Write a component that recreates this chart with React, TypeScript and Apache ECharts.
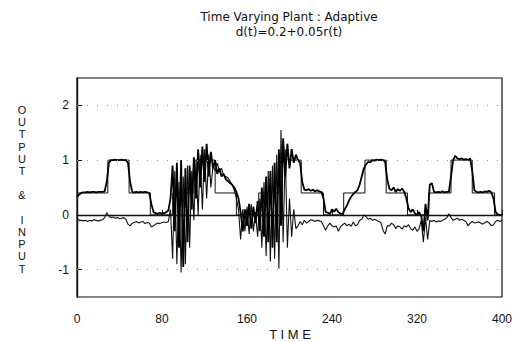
import React, { useEffect, useRef } from "react";
import * as echarts from "echarts";

const TITLE = "Time Varying Plant : Adaptive";
const SUBTITLE = "d(t)=0.2+0.05r(t)";
const X_LABEL = "TIME";
const Y_LABEL_CHARS = ["O", "U", "T", "P", "U", "T", "", "&", "", "I", "N", "P", "U", "T"];

const SAMPLE_STEP = 2; // time between samples of output / input

// reference command r(t): step breakpoints
const refTimes = [0, 29, 49, 69, 90, 110, 130, 150, 171, 191, 211, 232, 251, 271, 291, 311, 331, 352, 372, 393, 400];
const refValues = [0.4, 1, 0.4, 0, 0.4, 1, 0.4, 0, 0.4, 1, 0.4, 0, 0.4, 1, 0.4, 0, 0.4, 1, 0.4, 0, 0];

// plant output, t = 0..400 every 2
const outputValues = [
  0.33, 0.37, 0.4, 0.41, 0.41, 0.42, 0.41, 0.42, 0.42, 0.41,
  0.42, 0.42, 0.42, 0.43, 0.6, 0.95, 1.0, 1.0, 1.01, 1.0,
  1.0, 1.01, 1.0, 1.0, 0.95, 0.6, 0.42, 0.41, 0.42, 0.41,
  0.42, 0.41, 0.42, 0.41, 0.4, 0.2, 0.05, 0.03, 0.02, 0.04,
  0.02, 0.03, 0.05, 0.08, 0.3, 0.9, -0.3, 0.95, -0.6, 1.0,
  -0.95, 0.85, -0.5, 0.9, 0.1, 1.05, 0.3, 1.2, 0.5, 1.25,
  0.6, 1.3, 0.7, 1.15, 0.85, 1.0, 0.75, 0.85, 0.7, 0.75,
  0.65, 0.62, 0.58, 0.55, 0.5, 0.42, 0.3, 0.05, -0.3, 0.1,
  -0.2, 0.2, -0.25, 0.15, -0.15, 0.25, -0.3, 0.5, -0.4, 0.7,
  -0.5, 0.8, -0.6, 0.95, -0.5, 1.2, -0.2, 1.4, 0.7, 1.3,
  0.85, 1.2, 0.95, 1.1, 1.0, 0.95, 0.6, 0.46, 0.45, 0.47,
  0.44, 0.46, 0.43, 0.45, 0.43, 0.42, 0.3, 0.05, 0.04, 0.02,
  0.1, 0.06, 0.11, 0.05, 0.02, 0.02, 0.1, 0.17, 0.26, 0.33,
  0.38, 0.42, 0.45, 0.55, 0.7, 0.85, 0.92, 0.97, 0.96, 1.0,
  0.99, 1.01, 1.0, 1.01, 1.0, 0.97, 0.65, 0.48, 0.45, 0.5,
  0.42, 0.47, 0.44, 0.48, 0.42, 0.3, 0.12, 0.05, 0.1, 0.03,
  0.0, 0.05, -0.02, -0.3, 0.2, -0.1, 0.55, 0.58, 0.42, 0.41,
  0.42, 0.41, 0.43, 0.41, 0.42, 0.42, 0.7, 1.0, 1.08, 1.03,
  1.02, 1.03, 1.01, 1.02, 1.0, 1.03, 0.8, 0.45, 0.42, 0.41,
  0.42, 0.41, 0.43, 0.42, 0.44, 0.41, 0.3, 0.05, 0.01, 0.0,
  0.0,
];

// control input, t = 0..400 every 2
const inputValues = [
  -0.05, -0.1, -0.1, -0.11, -0.1, -0.12, -0.1, -0.11, -0.09, -0.1,
  -0.11, -0.1, -0.09, -0.05, 0.04, -0.02, -0.05, -0.04, -0.06, -0.05,
  -0.07, -0.06, -0.05, -0.08, -0.17, -0.2, -0.15, -0.14, -0.12, -0.15,
  -0.13, -0.12, -0.16, -0.14, -0.15, -0.22, -0.2, -0.17, -0.15, -0.16,
  -0.14, -0.13, -0.14, -0.12, 0.1, -0.8, 0.8, -0.9, 0.6, -1.05,
  0.7, -0.9, 0.9, -0.6, 0.8, -0.1, 1.0, 0.0, 1.1, 0.1,
  1.2, 0.3, 1.1, 0.5, 0.9, 0.8, 0.95, 0.8, 0.85, 0.72,
  0.7, 0.68, 0.62, 0.55, 0.45, 0.3, 0.1, -0.45, 0.1, -0.3,
  0.15, -0.35, 0.2, -0.3, 0.05, -0.4, 0.3, -0.6, 0.6, -0.75,
  0.8, -0.85, 0.9, -0.8, 1.1, -0.98, 1.55, -0.5, 1.2, -0.6,
  0.3, -0.4, 0.1, -0.25, -0.2, -0.12, -0.18, -0.1, -0.15, -0.12,
  -0.09, -0.1, -0.12, -0.1, -0.11, -0.12, -0.2, -0.28, -0.2, -0.15,
  -0.2, -0.22, -0.2, -0.3, -0.22, -0.18, -0.15, -0.2, -0.17, -0.21,
  -0.13, -0.2, -0.18, -0.1, -0.08, 0.0, -0.03, -0.08, -0.06, -0.1,
  -0.08, -0.1, -0.12, -0.14, -0.28, -0.35, -0.2, -0.2, -0.15, -0.18,
  -0.25, -0.2, -0.22, -0.26, -0.2, -0.22, -0.18, -0.25, -0.28, -0.22,
  -0.3, -0.25, -0.1, -0.5, -0.05, -0.45, -0.1, -0.12, -0.1, -0.13,
  -0.11, -0.12, -0.1, -0.08, -0.05, 0.02, -0.05, -0.1, -0.08, -0.06,
  -0.1, -0.08, -0.1, -0.12, -0.2, -0.15, -0.12, -0.15, -0.14, -0.13,
  -0.15, -0.17, -0.14, -0.12, -0.15, -0.2, -0.18, -0.12, -0.1, -0.12,
  -0.1,
];

const xTicks = [0, 80, 160, 240, 320, 400];
const yTicks = [-1, 0, 1, 2];
const dottedLevels = [-1, 1, 2];

const FONT = "'Liberation Sans', Arial, Helvetica, sans-serif";
const TITLE_FONT = "'DejaVu Sans', 'Liberation Sans', sans-serif";

export default function App() {
  const ref = useRef<HTMLDivElement>(null);

  useEffect(() => {
    if (!ref.current) return;
    const chart = echarts.init(ref.current, undefined, { renderer: "svg" });

    const refData = refTimes.map((t, i) => [t, refValues[i]]);
    const outData = outputValues.map((v, i) => [i * SAMPLE_STEP, v]);
    const inData = inputValues.map((v, i) => [i * SAMPLE_STEP, v]);

    const dotted = {
      type: [1, 9] as number[],
      color: "#999",
      width: 1,
    };

    const yLabelTexts = Y_LABEL_CHARS.map((ch, i) => ({
      type: "text",
      x: 22,
      y: 110 + i * 12.2,
      style: {
        text: ch,
        textAlign: "center",
        textVerticalAlign: "middle",
        fill: "#111",
        fontFamily: FONT,
        fontSize: 11,
        lineHeight: 11,
      },
    })).filter((g) => g.style.text !== "");

    chart.setOption({
      animation: false,
      backgroundColor: "#fff",
      grid: {
        left: 77,
        right: 25,
        top: 78,
        bottom: 45,
        show: true,
        borderColor: "#111",
        borderWidth: 1.2,
        backgroundColor: "transparent",
      },
      xAxis: {
        type: "value",
        min: 0,
        max: 400,
        interval: 80,
        axisLine: { show: true, lineStyle: { color: "#111", width: 1.4 } },
        axisTick: { show: true, inside: true, length: 5, lineStyle: { color: "#111", width: 1 } },
        axisLabel: {
          show: true,
          color: "#111",
          fontFamily: FONT,
          fontSize: 12,
          margin: 16,
          customValues: xTicks,
        },
        splitLine: { show: false },
      },
      yAxis: {
        type: "value",
        min: -1.5,
        max: 2.5,
        interval: 0.5,
        axisLine: { show: true, lineStyle: { color: "#111", width: 1.4 } },
        axisTick: { show: true, inside: true, length: 5, customValues: yTicks, lineStyle: { color: "#111", width: 1 } },
        axisLabel: {
          show: true,
          color: "#111",
          fontFamily: FONT,
          fontSize: 12,
          margin: 8,
          customValues: yTicks,
        },
        splitLine: { show: false },
      },
      series: [
        {
          name: "reference",
          type: "line",
          step: "end",
          data: refData,
          symbol: "none",
          lineStyle: { color: "#111", width: 1 },
          z: 3,
        },
        {
          name: "output",
          type: "line",
          data: outData,
          symbol: "none",
          lineStyle: { color: "#000", width: 1.8 },
          z: 4,
        },
        {
          name: "input",
          type: "line",
          data: inData,
          symbol: "none",
          lineStyle: { color: "#111", width: 1.1 },
          z: 2,
          markLine: {
            silent: true,
            symbol: "none",
            label: { show: false },
            data: [
              { yAxis: 0, lineStyle: { color: "#111", width: 1.2, type: "solid" } },
              ...dottedLevels.map((v) => ({ yAxis: v, lineStyle: dotted })),
            ],
          },
        },
      ],
      graphic: [
        {
          type: "text",
          x: 289,
          y: 17,
          style: {
            text: TITLE,
            textAlign: "center",
            textVerticalAlign: "middle",
            fill: "#111",
            font: `12px ${TITLE_FONT}`,
          },
        },
        {
          type: "text",
          x: 289,
          y: 32,
          style: {
            text: SUBTITLE,
            textAlign: "center",
            textVerticalAlign: "middle",
            fill: "#111",
            font: `12px ${TITLE_FONT}`,
          },
        },
        {
          type: "text",
          x: 290,
          y: 334,
          style: {
            text: X_LABEL.split("").join(" "),
            textAlign: "center",
            textVerticalAlign: "middle",
            fill: "#111",
            font: `13px ${FONT}`,
          },
        },
        ...yLabelTexts,
      ],
    });

    return () => chart.dispose();
  }, []);

  return (
    <div
      ref={ref}
      style={{ position: "fixed", left: 0, top: 0, width: 527, height: 342, background: "#fff" }}
    />
  );
}
